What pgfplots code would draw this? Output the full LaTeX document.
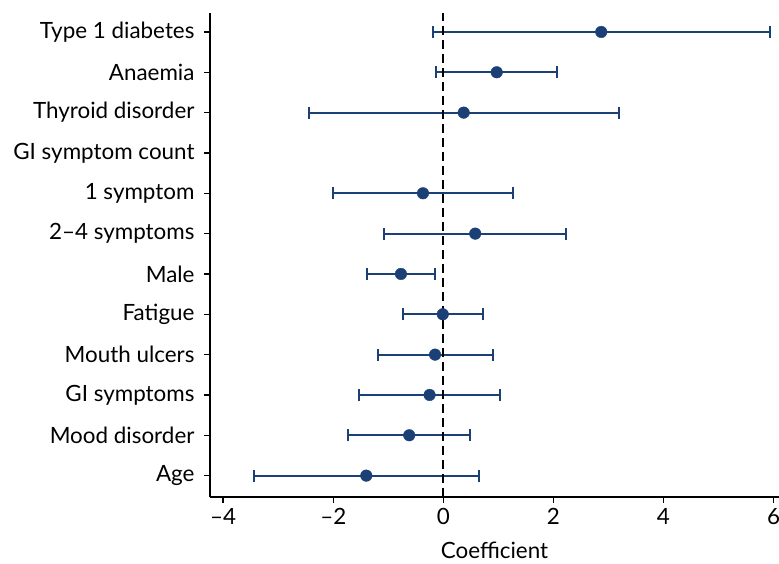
\documentclass[border=0pt]{standalone}
\usepackage{pgfplots}
\pgfplotsset{compat=1.18}
\usepackage{fontspec}
\setmainfont{Lato}
\definecolor{navy}{RGB}{27,64,118}
\begin{document}
\begin{tikzpicture}[trim axis right]
\begin{axis}[
  scale only axis, width=569pt, height=484pt,
  xmin=-4.24, xmax=6.1, ymin=-0.53, ymax=11.47,
  axis lines*=left,
  axis line style={line width=1.8pt, -},
  tick style={line width=1.5pt, black},
  tick align=outside, major tick length=6pt,
  xtick={-4,-2,0,2,4,6},
  xticklabels={–4,–2,0,2,4,6},
  ytick={0,...,11},
  yticklabels={Age,Mood disorder,GI symptoms,Mouth ulcers,Fatigue,Male,2–4 symptoms,1 symptom,GI symptom count,Thyroid disorder,Anaemia,Type 1 diabetes},
  ticklabel style={font=\fontsize{22.4}{26}\selectfont},
  yticklabel style={xshift=-6pt},
  xticklabel style={yshift=-2pt},
  xlabel={Coefficient}, xlabel style={font=\fontsize{22.4}{26}\selectfont, yshift=-10pt},
  /pgf/number format/assume math mode=true,
  clip=false,
]
\addplot[draw=none, mark=none,
  error bars/.cd, x dir=both, x explicit,
  error bar style={line width=2pt, navy},
  error mark options={line width=2pt, navy, mark size=6pt, rotate=90}]
  table[x=x, y=y, x error=e] {
  y x e
  11 2.87 3.06
  10 0.97 1.10
  9 0.37 2.815
  7 -0.37 1.64
  6 0.58 1.65
  5 -0.77 0.61
  4 -0.01 0.725
  3 -0.15 1.045
  2 -0.25 1.285
  1 -0.62 1.105
  0 -1.40 2.045
};
\addplot[black, line width=2pt, dash pattern=on 9pt off 5pt] coordinates {(0,-0.53) (0,11.47)};
\addplot[only marks, mark=*, mark size=5.8pt, navy, mark options={fill=navy, draw=navy}]
  table[x=x, y=y] {
  y x
  11 2.87
  10 0.97
  9 0.37
  7 -0.37
  6 0.58
  5 -0.77
  4 -0.01
  3 -0.15
  2 -0.25
  1 -0.62
  0 -1.40
};
\end{axis}
\path ([xshift=-210pt,yshift=13pt]current axis.north west);
\path ([yshift=-67pt]current axis.south west);
\end{tikzpicture}
\end{document}
